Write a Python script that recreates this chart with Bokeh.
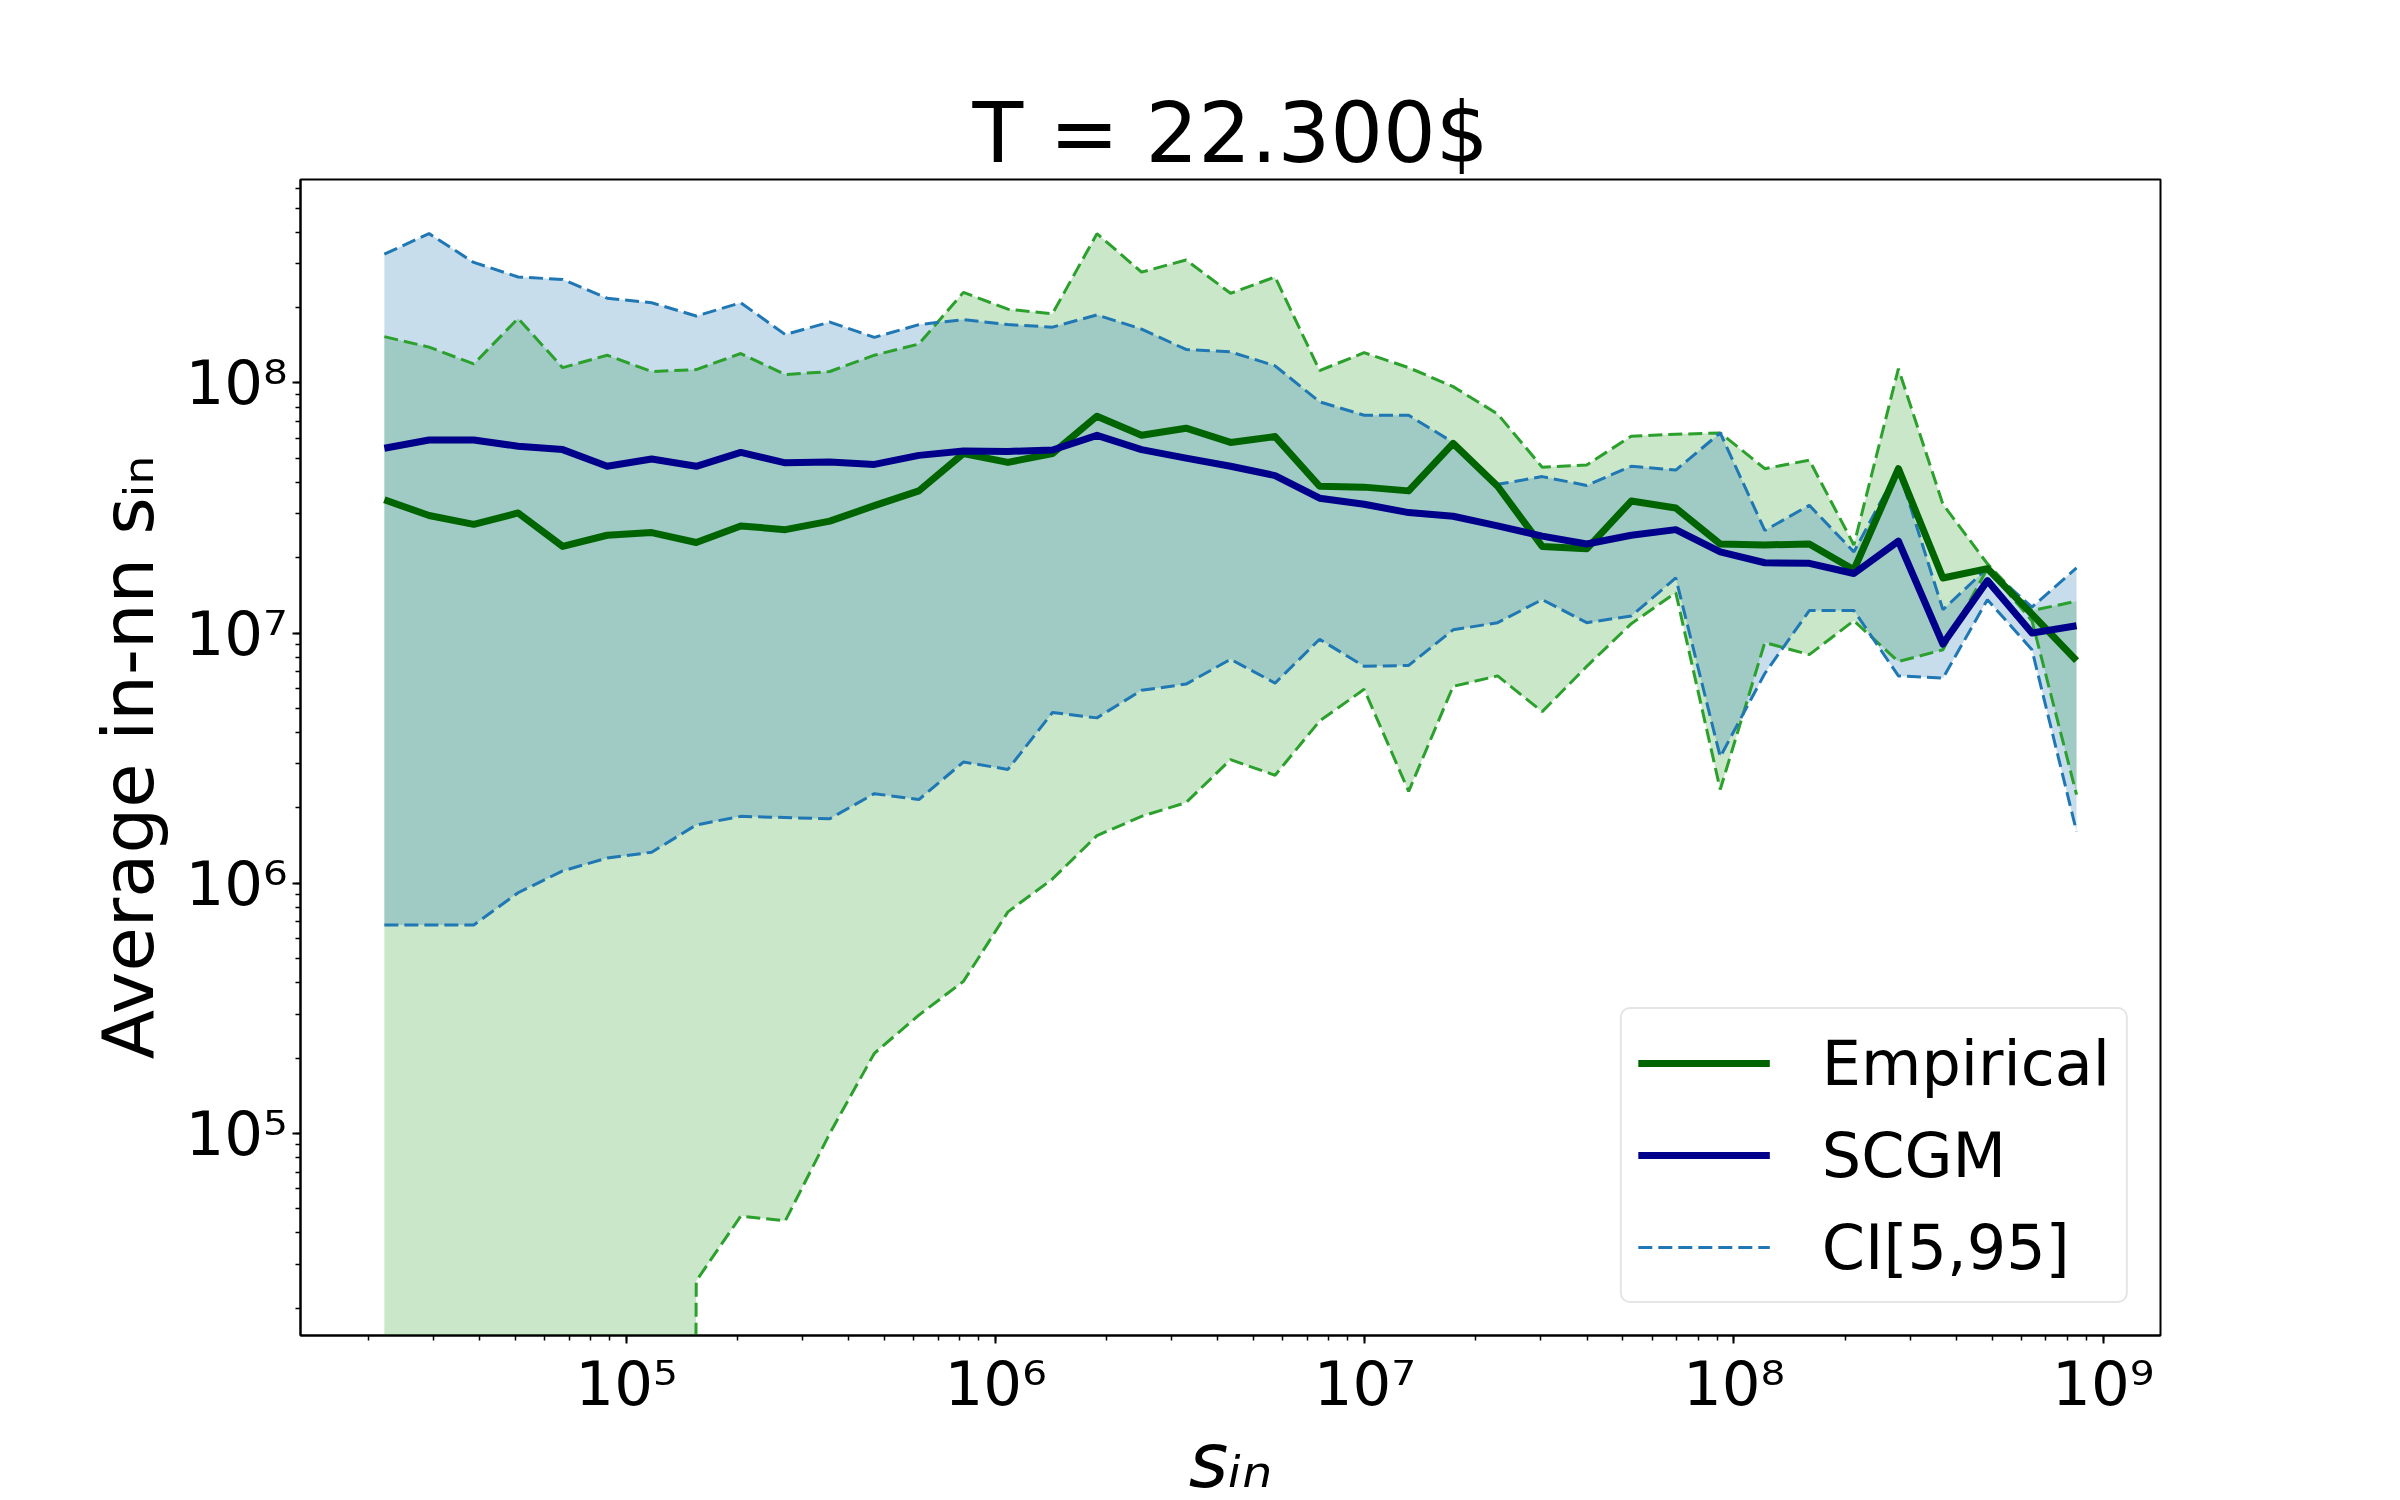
import numpy as np
from bokeh.plotting import figure
from bokeh.models import (Range1d, LogTicker, CustomJSTickFormatter, Legend,
                          LegendItem)
from bokeh.embed import file_html
from bokeh.resources import INLINE

# ---------------- data ----------------
s_in = [2.21e4, 2.92e4, 3.86e4, 5.09e4, 6.72e4, 8.87e4, 1.171e5, 1.546e5,
        2.041e5, 2.694e5, 3.556e5, 4.695e5, 6.197e5, 8.181e5, 1.080e6,
        1.426e6, 1.882e6, 2.485e6, 3.280e6, 4.330e6, 5.715e6, 7.545e6,
        9.96e6, 1.315e7, 1.735e7, 2.290e7, 3.024e7, 3.992e7, 5.270e7,
        6.957e7, 9.18e7, 1.212e8, 1.600e8, 2.113e8, 2.789e8, 3.681e8,
        4.860e8, 6.415e8, 8.47e8]

empirical = [3.41e7, 2.95e7, 2.72e7, 3.02e7, 2.22e7, 2.46e7, 2.52e7, 2.30e7,
             2.68e7, 2.59e7, 2.80e7, 3.23e7, 3.70e7, 5.22e7, 4.81e7, 5.22e7,
             7.36e7, 6.17e7, 6.59e7, 5.78e7, 6.10e7, 3.86e7, 3.83e7, 3.70e7,
             5.73e7, 3.86e7, 2.22e7, 2.17e7, 3.37e7, 3.16e7, 2.27e7, 2.25e7,
             2.27e7, 1.79e7, 4.54e7, 1.66e7, 1.81e7, 1.19e7, 7.76e6]

scgm = [5.48e7, 5.91e7, 5.91e7, 5.58e7, 5.41e7, 4.64e7, 4.96e7, 4.64e7,
        5.27e7, 4.79e7, 4.83e7, 4.72e7, 5.13e7, 5.34e7, 5.32e7, 5.39e7,
        6.17e7, 5.41e7, 5.00e7, 4.64e7, 4.26e7, 3.46e7, 3.27e7, 3.03e7,
        2.93e7, 2.68e7, 2.44e7, 2.27e7, 2.46e7, 2.59e7, 2.11e7, 1.91e7,
        1.90e7, 1.73e7, 2.33e7, 9.04e6, 1.62e7, 1.00e7, 1.07e7]

emp_ci_high = [1.53e8, 1.39e8, 1.19e8, 1.81e8, 1.15e8, 1.29e8, 1.11e8, 1.13e8,
               1.31e8, 1.08e8, 1.11e8, 1.29e8, 1.43e8, 2.30e8, 1.97e8, 1.89e8,
               3.95e8, 2.77e8, 3.10e8, 2.28e8, 2.65e8, 1.12e8, 1.32e8, 1.15e8,
               9.66e7, 7.51e7, 4.60e7, 4.70e7, 6.12e7, 6.23e7, 6.31e7, 4.54e7,
               4.91e7, 2.25e7, 1.14e8, 3.27e7, 1.89e7, 1.23e7, 1.34e7]

emp_ci_low = [0.0, 0.0, 0.0, 0.0, 0.0, 0.0, 0.0, 2.57e4,
              4.67e4, 4.47e4, 1.00e5, 2.09e5, 2.97e5, 4.05e5, 7.68e5, 1.04e6,
              1.55e6, 1.85e6, 2.10e6, 3.12e6, 2.70e6, 4.45e6, 5.96e6, 2.33e6,
              6.12e6, 6.74e6, 4.85e6, 7.36e6, 1.09e7, 1.45e7, 2.37e6, 9.16e6,
              8.20e6, 1.12e7, 7.69e6, 8.57e6, 1.81e7, 1.12e7, 2.26e6]

scgm_ci_high = [3.27e8, 3.95e8, 3.03e8, 2.65e8, 2.59e8, 2.18e8, 2.09e8, 1.85e8,
                2.09e8, 1.56e8, 1.75e8, 1.52e8, 1.71e8, 1.79e8, 1.71e8, 1.67e8,
                1.87e8, 1.64e8, 1.36e8, 1.33e8, 1.17e8, 8.40e7, 7.42e7, 7.42e7,
                5.78e7, 3.93e7, 4.22e7, 3.89e7, 4.64e7, 4.48e7, 6.31e7, 2.57e7,
                3.24e7, 2.11e7, 4.54e7, 1.24e7, 1.82e7, 1.27e7, 1.82e7]

scgm_ci_low = [6.81e5, 6.81e5, 6.81e5, 9.16e5, 1.12e6, 1.26e6, 1.33e6, 1.71e6,
               1.85e6, 1.83e6, 1.81e6, 2.28e6, 2.16e6, 3.05e6, 2.85e6, 4.81e6,
               4.58e6, 5.90e6, 6.25e6, 7.85e6, 6.31e6, 9.44e6, 7.36e6, 7.42e6,
               1.03e7, 1.10e7, 1.36e7, 1.10e7, 1.17e7, 1.66e7, 3.20e6, 6.89e6,
               1.23e7, 1.23e7, 6.74e6, 6.60e6, 1.36e7, 8.57e6, 1.61e6]

x_tick_values = [1e5, 1e6, 1e7, 1e8, 1e9]
x_tick_labels = ["10\u2075", "10\u2076", "10\u2077", "10\u2078", "10\u2079"]
y_tick_values = [1e5, 1e6, 1e7, 1e8]
y_tick_labels = ["10\u2075", "10\u2076", "10\u2077", "10\u2078"]

title_text = "T = 22.300$"
legend_labels = ["Empirical", "SCGM", "CI[5,95]"]
x_label = "s\u1d62\u2099"                      # s_in
y_label = "Average in-nn s\u1d62\u2099"        # Average in-nn s_in

# ---------------- styling ----------------
FONT = "DejaVu Sans"
EMP_COLOR = "#006400"
SCGM_COLOR = "#00008b"
EMP_CI = "#2ca02c"
SCGM_CI = "#1f77b4"

# log axes cannot show a zero lower bound: put it far below the visible range
emp_low_plot = np.where(np.array(emp_ci_low) > 0, np.array(emp_ci_low), 1e-30)

p = figure(x_axis_type="log", y_axis_type="log",
           frame_width=1860, frame_height=1156,
           min_border_left=300, min_border_right=224,
           min_border_top=179, min_border_bottom=149,
           x_range=Range1d(1.31e4, 1.43e9), y_range=Range1d(1.556e4, 6.5e8),
           output_backend="svg", toolbar_location=None, title=title_text)

p.background_fill_color = "white"
p.border_fill_color = "white"
p.outline_line_color = "black"
p.outline_line_width = 2
p.xgrid.visible = False
p.ygrid.visible = False

p.title.text_font = FONT
p.title.text_font_size = "83px"
p.title.text_font_style = "normal"
p.title.text_color = "black"
p.title.align = "center"
p.title.standoff = -5

# fills
p.varea(x=s_in, y1=emp_low_plot, y2=emp_ci_high, fill_color=EMP_CI, fill_alpha=0.25)
p.varea(x=s_in, y1=scgm_ci_low, y2=scgm_ci_high, fill_color=SCGM_CI, fill_alpha=0.25)

# CI boundaries
dash = "14 6"
p.line(s_in, emp_ci_high, line_color=EMP_CI, line_width=3, line_dash=dash)
p.line(s_in, emp_low_plot, line_color=EMP_CI, line_width=3, line_dash=dash)
ci_line = p.line(s_in, scgm_ci_high, line_color=SCGM_CI, line_width=3, line_dash=dash)
p.line(s_in, scgm_ci_low, line_color=SCGM_CI, line_width=3, line_dash=dash)

# means
emp_line = p.line(s_in, empirical, line_color=EMP_COLOR, line_width=7, line_join="round")
scgm_line = p.line(s_in, scgm, line_color=SCGM_COLOR, line_width=7, line_join="round")

# axes
fmt_code = """
const lt = Math.log10(tick);
for (let i = 0; i < tvals.length; i++) {
  if (Math.abs(Math.log10(tvals[i]) - lt) < 1e-6) return tlabels[i];
}
return "";
"""
p.xaxis.ticker = LogTicker(num_minor_ticks=10)
p.yaxis.ticker = LogTicker(num_minor_ticks=10)
p.xaxis.formatter = CustomJSTickFormatter(args=dict(tvals=x_tick_values, tlabels=x_tick_labels), code=fmt_code)
p.yaxis.formatter = CustomJSTickFormatter(args=dict(tvals=y_tick_values, tlabels=y_tick_labels), code=fmt_code)

for ax in (p.xaxis, p.yaxis):
    ax.axis_line_color = "black"
    ax.axis_line_width = 2
    ax.major_tick_in = 0
    ax.major_tick_out = 8
    ax.minor_tick_in = 0
    ax.minor_tick_out = 5
    ax.major_tick_line_width = 2
    ax.minor_tick_line_width = 1.5
    ax.major_tick_line_color = "black"
    ax.minor_tick_line_color = "black"
    ax.major_label_text_font = FONT
    ax.major_label_text_font_size = "61px"
    ax.major_label_text_color = "black"
    ax.axis_label_text_font = FONT
    ax.axis_label_text_color = "black"
p.xaxis.major_label_standoff = 4
p.yaxis.major_label_standoff = 5

p.xaxis.axis_label = x_label
p.xaxis.axis_label_text_font_size = "76px"
p.xaxis.axis_label_text_font_style = "italic"
p.xaxis.axis_label_standoff = -6

p.yaxis.axis_label = y_label
p.yaxis.axis_label_text_font_size = "72px"
p.yaxis.axis_label_text_font_style = "normal"
p.yaxis.axis_label_standoff = 12

legend = Legend(items=[LegendItem(label=legend_labels[0], renderers=[emp_line]),
                       LegendItem(label=legend_labels[1], renderers=[scgm_line]),
                       LegendItem(label=legend_labels[2], renderers=[ci_line])],
                location="bottom_right")
legend.margin = 32
legend.padding = 16
legend.spacing = 16
legend.glyph_height = 76
legend.glyph_width = 132
legend.label_standoff = 52
legend.label_text_font = FONT
legend.label_text_font_size = "62px"
legend.label_text_color = "black"
legend.border_line_color = "#cccccc"
legend.border_line_width = 2
legend.background_fill_color = "white"
legend.background_fill_alpha = 0.8
if "border_radius" in Legend.properties():
    legend.border_radius = 10
p.add_layout(legend)

open("out.html", "w").write(file_html(p, INLINE))
